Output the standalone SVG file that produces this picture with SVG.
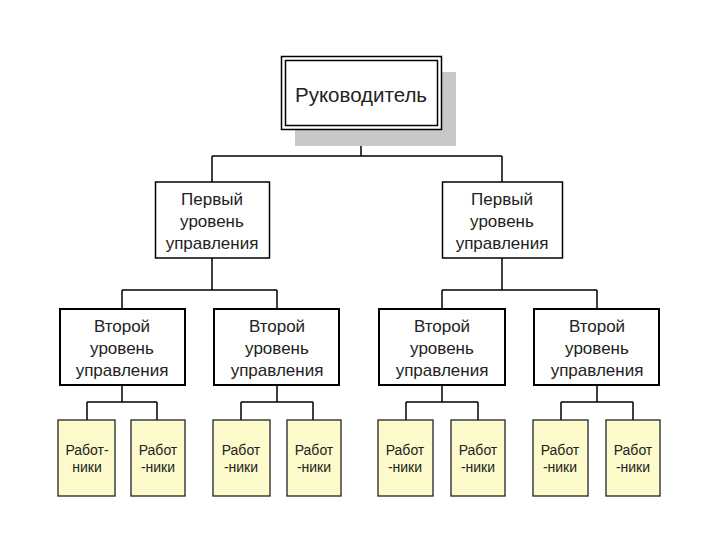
<svg xmlns="http://www.w3.org/2000/svg" width="720" height="540" viewBox="0 0 720 540">
<style>
.t{font-family:"Liberation Sans",Arial,sans-serif;fill:#222;text-anchor:middle}
.l1{fill:#fff;stroke:#000;stroke-width:1.5}
.l2{fill:#fff;stroke:#000;stroke-width:2}
.w{fill:#fdfbcb;stroke:#222;stroke-width:1.3}
.c{fill:none;stroke:#000;stroke-width:1.5}
</style>
<rect width="720" height="540" fill="#fff"/>
<g id="connectors">
<path class="c" d="M361,130V156M212,156H502M212,156V182M502,156V182"/>
<path class="c" d="M212,258V290M122,290H277M122,290V308M277,290V308"/>
<path class="c" d="M502,258V290M442,290H597M442,290V308M597,290V308"/>
<path class="c" d="M122,385V402M87,402H157M87,402V420M157,402V420"/>
<path class="c" d="M277,385V402M241,402H313M241,402V420M313,402V420"/>
<path class="c" d="M442,385V402M406,402H478M406,402V420M478,402V420"/>
<path class="c" d="M597,385V402M561,402H633M561,402V420M633,402V420"/>
</g>
<g id="head">
<rect x="295" y="72" width="161" height="74" fill="#c8c8c8"/>
<rect x="281.5" y="56.5" width="160" height="73" fill="#fff" stroke="#000" stroke-width="1.5"/>
<rect x="285.5" y="60.5" width="152" height="65" fill="none" stroke="#000" stroke-width="1.5"/>
<text class="t" x="361" y="102" font-size="20.5">Руководитель</text>
</g>
<g id="first1">
<rect class="l1" x="155.5" y="182" width="114" height="76"/>
<text class="t" font-size="17"><tspan x="212" y="205">Первый</tspan><tspan x="212" y="227">уровень</tspan><tspan x="212" y="249">управления</tspan></text>
</g>
<g id="first2">
<rect class="l1" x="442.5" y="182" width="120" height="76"/>
<text class="t" font-size="17"><tspan x="502" y="205">Первый</tspan><tspan x="502" y="227">уровень</tspan><tspan x="502" y="249">управления</tspan></text>
</g>
<g id="second1">
<rect class="l2" x="60" y="309" width="125" height="76"/>
<text class="t" font-size="17"><tspan x="122" y="332">Второй</tspan><tspan x="122" y="354">уровень</tspan><tspan x="122" y="376">управления</tspan></text>
</g>
<g id="second2">
<rect class="l2" x="214" y="309" width="125" height="76"/>
<text class="t" font-size="17"><tspan x="277" y="332">Второй</tspan><tspan x="277" y="354">уровень</tspan><tspan x="277" y="376">управления</tspan></text>
</g>
<g id="second3">
<rect class="l2" x="379" y="309" width="126" height="76"/>
<text class="t" font-size="17"><tspan x="442" y="332">Второй</tspan><tspan x="442" y="354">уровень</tspan><tspan x="442" y="376">управления</tspan></text>
</g>
<g id="second4">
<rect class="l2" x="534" y="309" width="125" height="76"/>
<text class="t" font-size="17"><tspan x="597" y="332">Второй</tspan><tspan x="597" y="354">уровень</tspan><tspan x="597" y="376">управления</tspan></text>
</g>
<g id="w1"><rect class="w" x="58" y="420" width="57" height="76"/><text class="t" font-size="14"><tspan x="87" y="455">Работ-</tspan><tspan x="87" y="472">ники</tspan></text></g>
<g id="w2"><rect class="w" x="131" y="420" width="54" height="76"/><text class="t" font-size="14"><tspan x="158" y="455">Работ</tspan><tspan x="158" y="472">-ники</tspan></text></g>
<g id="w3"><rect class="w" x="213" y="420" width="57" height="76"/><text class="t" font-size="14"><tspan x="241" y="455">Работ</tspan><tspan x="241" y="472">-ники</tspan></text></g>
<g id="w4"><rect class="w" x="287" y="420" width="54" height="76"/><text class="t" font-size="14"><tspan x="314" y="455">Работ</tspan><tspan x="314" y="472">-ники</tspan></text></g>
<g id="w5"><rect class="w" x="378" y="420" width="55" height="76"/><text class="t" font-size="14"><tspan x="405" y="455">Работ</tspan><tspan x="405" y="472">-ники</tspan></text></g>
<g id="w6"><rect class="w" x="451" y="420" width="54" height="76"/><text class="t" font-size="14"><tspan x="478" y="455">Работ</tspan><tspan x="478" y="472">-ники</tspan></text></g>
<g id="w7"><rect class="w" x="533" y="420" width="55" height="76"/><text class="t" font-size="14"><tspan x="560" y="455">Работ</tspan><tspan x="560" y="472">-ники</tspan></text></g>
<g id="w8"><rect class="w" x="606" y="420" width="54" height="76"/><text class="t" font-size="14"><tspan x="633" y="455">Работ</tspan><tspan x="633" y="472">-ники</tspan></text></g>
</svg>
